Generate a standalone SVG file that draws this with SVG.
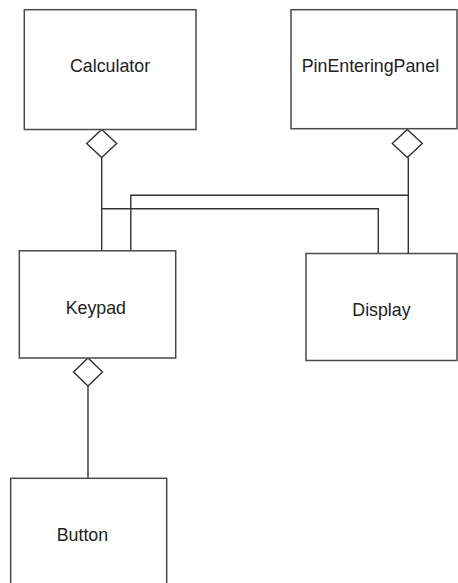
<svg xmlns="http://www.w3.org/2000/svg" width="458" height="583" viewBox="0 0 458 583">
  <style>
    .box { fill: #ffffff; stroke: #4a4a4a; stroke-width: 1.5; }
    .lbl { font-family: "Liberation Sans", Arial, sans-serif; font-size: 17.8px; fill: #222222; }
    .wire { fill: none; stroke: #333333; stroke-width: 1.4; }
    .agg { fill: #ffffff; stroke: #333333; stroke-width: 1.4; }
  </style>
  <rect width="458" height="583" fill="#ffffff"/>

  <!-- connectors -->
  <g id="connectors">
    <!-- Calculator to Keypad and Display -->
    <path class="wire" d="M101.7,157.5 V250.5"/>
    <path class="wire" d="M101.7,208.7 H378.3 V253.5"/>
    <!-- PinEnteringPanel to Display and Keypad -->
    <path class="wire" d="M408.3,157.5 V253.5"/>
    <path class="wire" d="M408.3,195.3 H130.8 V250.5"/>
    <!-- Keypad to Button -->
    <path class="wire" d="M88,386 V478"/>
    <!-- aggregation diamonds -->
    <polygon class="agg" points="101.7,129.5 116.7,143.5 101.7,157.5 86.7,143.5"/>
    <polygon class="agg" points="407.3,129.5 422.3,143.5 407.3,157.5 392.3,143.5"/>
    <polygon class="agg" points="88,358 102.5,372 88,386 73.5,372"/>
  </g>

  <g id="calculator">
    <rect class="box" x="24.3" y="9.7" width="171.7" height="119.8"/>
    <text class="lbl" x="70" y="71.7">Calculator</text>
  </g>

  <g id="pin-entering-panel">
    <rect class="box" x="291" y="9.7" width="166" height="119"/>
    <text class="lbl" x="301.7" y="71.7">PinEnteringPanel</text>
  </g>

  <g id="keypad">
    <rect class="box" x="19.3" y="250.8" width="156.4" height="107.2"/>
    <text class="lbl" x="65.7" y="314">Keypad</text>
  </g>

  <g id="display">
    <rect class="box" x="306" y="253.5" width="151" height="107"/>
    <text class="lbl" x="352.3" y="316">Display</text>
  </g>

  <g id="button">
    <rect class="box" x="10.7" y="478.3" width="156" height="120"/>
    <text class="lbl" x="56.7" y="540.7">Button</text>
  </g>
</svg>
